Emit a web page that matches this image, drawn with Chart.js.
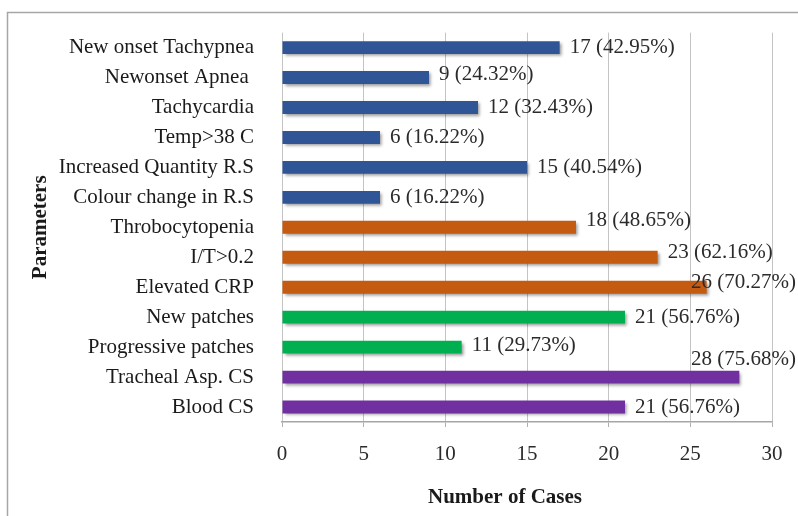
<!DOCTYPE html>
<html>
<head>
<meta charset="utf-8">
<script src="https://cdn.jsdelivr.net/npm/chart.js@4"></script>
<style>
  body { margin: 0; background: #fff; }
  canvas { display: block; }
</style>
</head>
<body>
<canvas id="casesChart" width="798" height="516"></canvas>
<script>
// parametres, du haut vers le bas
const parameters = [
    'New onset Tachypnea', 'Newonset Apnea ', 'Tachycardia', 'Temp>38 C',
    'Increased Quantity R.S', 'Colour change in R.S', 'Throbocytopenia',
    'I/T>0.2', 'Elevated CRP', 'New patches', 'Progressive patches',
    'Tracheal Asp. CS', 'Blood CS'
];
const cases = [17, 9, 12, 6, 15, 6, 18, 23, 26, 21, 11, 28, 21];
const percents = ['42.95', '24.32', '32.43', '16.22', '40.54', '16.22', '48.65',
    '62.16', '70.27', '56.76', '29.73', '75.68', '56.76'];
const groups = ['clinical', 'clinical', 'clinical', 'clinical', 'clinical', 'clinical',
    'lab', 'lab', 'lab', 'xray', 'xray', 'culture', 'culture'];
const xTicks = [0, 5, 10, 15, 20, 25, 30];

const groupColors = { clinical: '#2f5597', lab: '#c55a11', xray: '#00b050', culture: '#7030a0' };
// petits decalages verticaux des etiquettes (comme dans l'original)
const labelNudge = [0, -3, 0, 0, 0, 0, -7, -5, -5, 0, -2, -18, 0];

const serif = '"Liberation Serif", "Times New Roman", serif';

const framePlugin = {
    id: 'frame',
    beforeDraw(chart) {
        const ctx = chart.ctx;
        ctx.save();
        ctx.strokeStyle = '#a6a6a6';
        ctx.lineWidth = 1.5;
        ctx.beginPath();
        ctx.moveTo(7.5, 516);
        ctx.lineTo(7.5, 12.5);
        ctx.lineTo(798, 12.5);
        ctx.stroke();
        ctx.restore();
    }
};

const shadowPlugin = {
    id: 'barShadow',
    beforeDatasetsDraw(chart) {
        const ctx = chart.ctx;
        ctx.save();
        ctx.shadowColor = 'rgba(0,0,0,0.4)';
        ctx.shadowBlur = 3;
        ctx.shadowOffsetX = 2;
        ctx.shadowOffsetY = 2;
    },
    afterDatasetsDraw(chart) {
        chart.ctx.restore();
    }
};

const labelsPlugin = {
    id: 'valueLabels',
    afterDatasetsDraw(chart) {
        const ctx = chart.ctx;
        const meta = chart.getDatasetMeta(0);
        ctx.save();
        ctx.font = '21px ' + serif;
        ctx.fillStyle = '#2b2b2b';
        ctx.textBaseline = 'middle';
        meta.data.forEach((bar, i) => {
            const text = `${cases[i]} (${percents[i]}%)`;
            const w = ctx.measureText(text).width;
            const x = Math.min(bar.x + 10, chart.width - w - 2);
            ctx.fillText(text, x, bar.y + labelNudge[i]);
        });

        // titres des axes
        const area = chart.chartArea;
        ctx.font = 'bold 21px ' + serif;
        ctx.fillStyle = '#1a1a1a';
        ctx.textAlign = 'center';
        ctx.fillText('Number of Cases', (area.left + area.right) / 2 - 22, 498);
        ctx.translate(41, (area.top + area.bottom) / 2);
        ctx.rotate(-Math.PI / 2);
        ctx.fillText('Parameters', 0, 0);
        ctx.restore();
    }
};

new Chart(document.getElementById('casesChart'), {
    type: 'bar',
    data: {
        labels: parameters,
        datasets: [{
            data: cases,
            backgroundColor: groups.map(g => groupColors[g]),
            barPercentage: 0.43,
            categoryPercentage: 1
        }]
    },
    options: {
        indexAxis: 'y',
        responsive: false,
        animation: false,
        layout: { padding: { top: 32, right: 26, left: 0, bottom: 0 } },
        plugins: {
            legend: { display: false },
            tooltip: { enabled: false }
        },
        scales: {
            x: {
                min: 0,
                max: 30,
                afterBuildTicks: s => { s.ticks = xTicks.map(v => ({ value: v })); },
                afterFit: s => { s.height = 94; },
                grid: { color: '#c4c4c4', tickColor: '#b0b0b0', tickLength: 5 },
                border: { display: true, color: '#a6a6a6', width: 1.5 },
                ticks: {
                    color: '#2b2b2b',
                    padding: 15,
                    font: { family: serif, size: 21 }
                }
            },
            y: {
                afterFit: s => { s.width = 282; },
                grid: { display: false },
                border: { display: false },
                ticks: {
                    color: '#1a1a1a',
                    padding: 20,
                    font: { family: serif, size: 21 }
                }
            }
        }
    },
    plugins: [framePlugin, shadowPlugin, labelsPlugin]
});
</script>
</body>
</html>
